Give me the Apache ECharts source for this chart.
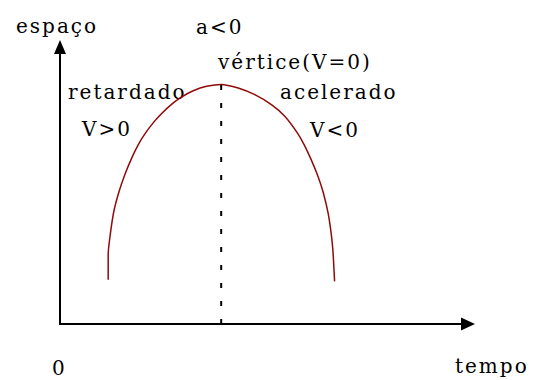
<!DOCTYPE html>
<html>
<head>
<meta charset="utf-8">
<script src="https://cdn.jsdelivr.net/npm/echarts@6/dist/echarts.min.js"></script>
<style>
  html, body { margin: 0; padding: 0; background: #fff; }
  #chart { width: 539px; height: 380px; }
  #chart text { letter-spacing: 2px; }
</style>
</head>
<body>
<div id="chart"></div>
<script>
// Position (espaço) against time (tempo) for a motion with a < 0
const tempo  = [1.19, 1.19, 1.24, 1.33, 1.46, 1.60, 1.77, 1.93, 2.10, 2.30, 2.51, 2.76, 3.01, 3.29, 3.62, 3.98,
                4.40, 4.81, 5.22, 5.55, 5.86, 6.03, 6.19, 6.36, 6.50, 6.62, 6.70, 6.74, 6.78];
const espaco = [1.60, 2.50, 3.22, 4.07, 4.79, 5.39, 5.99, 6.47, 6.87, 7.26, 7.60, 7.94, 8.20, 8.42, 8.58, 8.65,
                8.52, 8.28, 7.92, 7.50, 6.90, 6.47, 5.97, 5.37, 4.75, 4.00, 3.22, 2.62, 1.54];

// Vertex of the curve (V = 0)
const vertexTempo = 3.98;
const vertexEspaco = 8.65;

// Axis ranges
const tempoRange = [0, 10];
const espacoRange = [0, 10];

// Annotation texts
const axisNameY = 'espaço';
const axisNameX = 'tempo';
const originLabel = '0';
const accelLabel = 'a<0';
const vertexLabel = 'vértice(V=0)';
const leftLabels = ['retardado', 'V>0'];
const rightLabels = ['acelerado', 'V<0'];

const chart = echarts.init(document.getElementById('chart'), null, { renderer: 'svg' });

const font = '20px "DejaVu Serif"';
function txt(text, x, y) {
  return {
    type: 'text', x: x, y: y, silent: true,
    style: { text: text, fill: '#000', font: font, align: 'left', verticalAlign: 'middle',
             textAlign: 'left', textVerticalAlign: 'middle' }
  };
}

const axisCommon = {
  type: 'value',
  axisTick: { show: false },
  axisLabel: { show: false },
  splitLine: { show: false }
};

chart.setOption({
  animation: false,
  backgroundColor: '#fff',
  grid: { left: 60, right: 74, top: 47, bottom: 56 },
  xAxis: Object.assign({}, axisCommon, {
    min: tempoRange[0], max: tempoRange[1],
    axisLine: { show: true, symbol: ['none', 'triangle'], symbolSize: [13, 14], symbolOffset: [0, 3],
                lineStyle: { color: '#000', width: 2 } }
  }),
  yAxis: Object.assign({}, axisCommon, {
    min: espacoRange[0], max: espacoRange[1],
    axisLine: { show: true, symbol: ['none', 'triangle'], symbolSize: [12, 14],
                lineStyle: { color: '#000', width: 2 } }
  }),
  series: [
    {
      type: 'line',
      data: tempo.map((t, i) => [t, espaco[i]]),
      showSymbol: false,
      smooth: 0.25,
      lineStyle: { color: '#8f0a0a', width: 1.5 },
      silent: true
    },
    {
      type: 'line',
      data: [[vertexTempo, espacoRange[0]], [vertexTempo, vertexEspaco]],
      showSymbol: false,
      lineStyle: { color: '#000', width: 2, type: [5, 13] },
      silent: true
    }
  ],
  graphic: [
    txt(axisNameY, 16, 25.5),
    txt(accelLabel, 196, 26.5),
    txt(vertexLabel, 218, 61.5),
    txt(leftLabels[0], 68, 91.5),
    txt(leftLabels[1], 82, 128.5),
    txt(rightLabels[0], 280, 91.5),
    txt(rightLabels[1], 310, 129.5),
    txt(originLabel, 52, 367.5),
    txt(axisNameX, 455, 365.5)
  ]
});
</script>
</body>
</html>
